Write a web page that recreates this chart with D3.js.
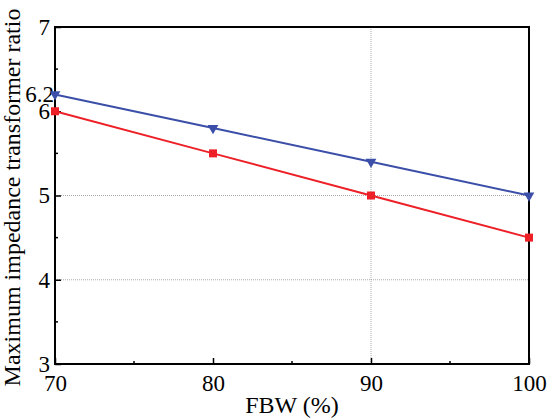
<!DOCTYPE html>
<html><head><meta charset="utf-8">
<script src="https://cdn.jsdelivr.net/npm/d3@7"></script>
<style>body{margin:0;background:#fff}svg{display:block}text{font-family:"Liberation Serif","Times New Roman",serif;fill:#000}</style>
</head><body>
<script>
const fbw = [70, 80, 90, 100];
const seriesBlue = [6.2, 5.8, 5.4, 5.0];
const seriesRed = [6.0, 5.5, 5.0, 4.5];
const xTicks = [70, 80, 90, 100];
const xMinor = [75, 85, 95];
const yTicks = [3, 4, 5, 6, 7];
const yExtraLabel = [6.2];
const yMinor = [3.5, 4.5, 5.5, 6.5];
const yGrid = [4, 5];
const xGrid = [90];

const W = 549, H = 420;
const m = {l: 55, t: 27, r: 20, b: 56};
const svg = d3.select("body").append("svg").attr("width", W).attr("height", H);
const x = d3.scaleLinear().domain([70, 100]).range([m.l, W - m.r]);
const y = d3.scaleLinear().domain([3, 7]).range([H - m.b, m.t]);

// grid
svg.selectAll(".gy").data(yGrid).enter().append("line")
  .attr("x1", x(70)).attr("x2", x(100)).attr("y1", d => y(d)).attr("y2", d => y(d))
  .attr("stroke", "#aaa").attr("stroke-width", 1).attr("stroke-dasharray", "1,1");
svg.selectAll(".gx").data(xGrid).enter().append("line")
  .attr("y1", y(3)).attr("y2", y(7)).attr("x1", d => x(d)).attr("x2", d => x(d))
  .attr("stroke", "#aaa").attr("stroke-width", 1).attr("stroke-dasharray", "1,1");

// axes
const xAxis = d3.axisBottom(x).tickValues(xTicks).tickSize(-6).tickPadding(11).tickFormat(d3.format("d"));
const gx = svg.append("g").attr("transform", `translate(0,${y(3)})`).call(xAxis);
const yAxis = d3.axisLeft(y).tickValues(yTicks).tickSize(-6).tickPadding(5).tickFormat(d3.format("d"));
const gy = svg.append("g").attr("transform", `translate(${x(70)},0)`).call(yAxis);
[gx, gy].forEach(g => {
  g.select(".domain").remove();
  g.selectAll("text").style("font-size", "23px").style("font-family", "Liberation Serif");
  g.selectAll("line").attr("stroke", "#000").attr("stroke-width", 1.5);
});
gx.selectAll("text").attr("dy", "0.71em");
// extra label 6.2
svg.selectAll(".el").data(yExtraLabel).enter().append("text")
  .attr("x", x(70) - 1).attr("y", d => y(d)).attr("dy", "0.32em").attr("text-anchor", "end")
  .style("font-size", "23px").text(d => d);
// minor ticks
svg.selectAll(".mx").data(xMinor).enter().append("line")
  .attr("x1", d => x(d)).attr("x2", d => x(d)).attr("y1", y(3)).attr("y2", y(3) - 3)
  .attr("stroke", "#000").attr("stroke-width", 1.5);
svg.selectAll(".my").data(yMinor).enter().append("line")
  .attr("y1", d => y(d)).attr("y2", d => y(d)).attr("x1", x(70)).attr("x2", x(70) + 3)
  .attr("stroke", "#000").attr("stroke-width", 1.5);

// frame
svg.append("rect").attr("x", x(70)).attr("y", y(7)).attr("width", x(100) - x(70)).attr("height", y(3) - y(7))
  .attr("fill", "none").attr("stroke", "#000").attr("stroke-width", 2);

// lines
const line = d3.line().x((d, i) => x(fbw[i])).y(d => y(d));
svg.append("path").datum(seriesBlue).attr("d", line).attr("fill", "none").attr("stroke", "#3b4ea8").attr("stroke-width", 2);
svg.append("path").datum(seriesRed).attr("d", line).attr("fill", "none").attr("stroke", "#ee2027").attr("stroke-width", 2);
svg.selectAll(".sq").data(seriesRed).enter().append("rect")
  .attr("x", (d, i) => x(fbw[i]) - 4).attr("y", d => y(d) - 4).attr("width", 8).attr("height", 8).attr("fill", "#ee2027");
const tri = d3.symbol().type(d3.symbolTriangle).size(50);
svg.selectAll(".tr").data(seriesBlue).enter().append("path")
  .attr("d", tri).attr("transform", (d, i) => `translate(${x(fbw[i])},${y(d)}) rotate(180)`).attr("fill", "#3b4ea8");

// titles
svg.append("text").attr("x", (x(70) + x(100)) / 2).attr("y", 413).attr("text-anchor", "middle")
  .style("font-size", "24px").text("FBW (%)");
svg.append("text").attr("transform", `translate(20,${(y(3) + y(7)) / 2 + 2}) rotate(-90)`).attr("text-anchor", "middle")
  .style("font-size", "24px").text("Maximum impedance transformer ratio");
</script>
</body></html>
